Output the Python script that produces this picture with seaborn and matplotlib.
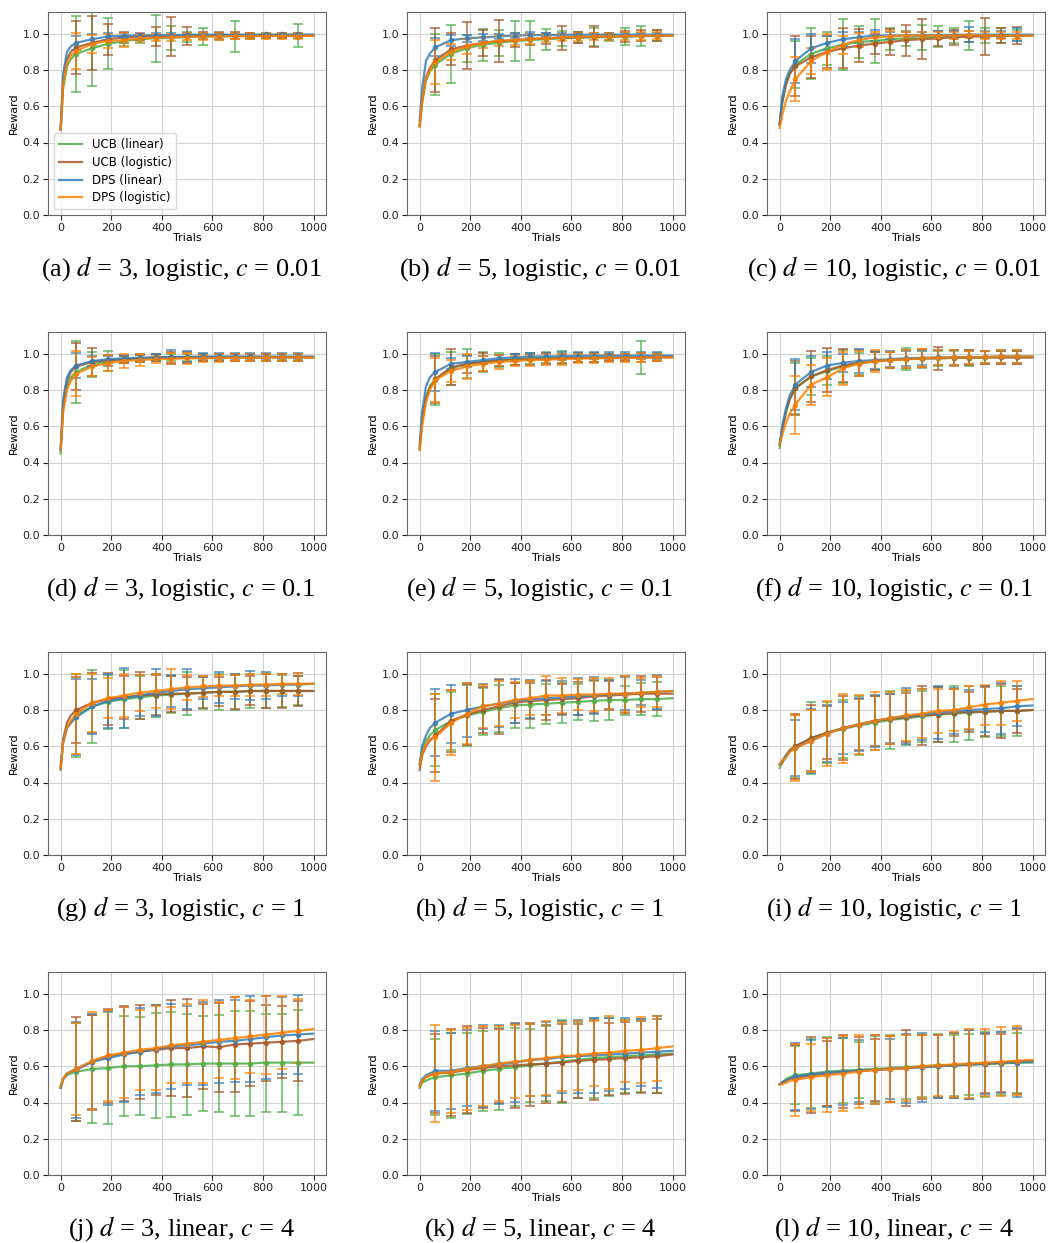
import matplotlib
matplotlib.use("Agg")
import matplotlib.pyplot as plt
import seaborn as sns

trials = [0, 10, 25, 40, 62, 125, 188, 250, 312, 375, 438, 500, 562, 625, 688, 750, 812, 875, 938, 999]
# error bars are drawn every ~62 trials (trials[4:19])
err_trials = trials[4:19]

methods = ["UCB (linear)", "UCB (logistic)", "DPS (linear)", "DPS (logistic)"]
colors = ["#4daf4a", "#a65628", "#377eb8", "#ff7f00"]

captions = [
    "(a) $d$ = 3, logistic, $c$ = 0.01", "(b) $d$ = 5, logistic, $c$ = 0.01", "(c) $d$ = 10, logistic, $c$ = 0.01",
    "(d) $d$ = 3, logistic, $c$ = 0.1", "(e) $d$ = 5, logistic, $c$ = 0.1", "(f) $d$ = 10, logistic, $c$ = 0.1",
    "(g) $d$ = 3, logistic, $c$ = 1", "(h) $d$ = 5, logistic, $c$ = 1", "(i) $d$ = 10, logistic, $c$ = 1",
    "(j) $d$ = 3, linear, $c$ = 4", "(k) $d$ = 5, linear, $c$ = 4", "(l) $d$ = 10, linear, $c$ = 4",
]

# order in every panel: UCB lin, UCB log, DPS lin, DPS log
mean_a = [
    [0.47, 0.70, 0.82, 0.86, 0.89, 0.92, 0.945, 0.96, 0.97, 0.975, 0.978, 0.982, 0.985, 0.986, 0.987, 0.988, 0.989, 0.99, 0.99, 0.99],
    [0.47, 0.74, 0.86, 0.90, 0.925, 0.95, 0.97, 0.98, 0.985, 0.985, 0.985, 0.988, 0.99, 0.99, 0.99, 0.99, 0.99, 0.99, 0.99, 0.99],
    [0.48, 0.78, 0.90, 0.93, 0.95, 0.97, 0.985, 0.99, 0.99, 0.992, 0.993, 0.994, 0.995, 0.995, 0.995, 0.995, 0.996, 0.996, 0.996, 0.996],
    [0.47, 0.72, 0.84, 0.88, 0.905, 0.945, 0.96, 0.965, 0.975, 0.978, 0.98, 0.983, 0.985, 0.985, 0.987, 0.987, 0.988, 0.988, 0.988, 0.99],
]
err_a = [
    [0.21, 0.21, 0.14, 0.03, 0.02, 0.13, 0.065, 0.03, 0.045, 0.02, 0.085, 0.015, 0.01, 0.015, 0.062],
    [0.145, 0.15, 0.085, 0.03, 0.02, 0.055, 0.105, 0.05, 0.02, 0.02, 0.02, 0.015, 0.01, 0.015, 0.015],
    [0.04, 0.03, 0.02, 0.015, 0.01, 0.01, 0.01, 0.01, 0.01, 0.01, 0.01, 0.01, 0.01, 0.01, 0.01],
    [0.10, 0.05, 0.04, 0.04, 0.02, 0.02, 0.02, 0.02, 0.02, 0.02, 0.015, 0.015, 0.015, 0.015, 0.015],
]

mean_b = [
    [0.49, 0.62, 0.74, 0.79, 0.83, 0.89, 0.92, 0.94, 0.95, 0.96, 0.965, 0.97, 0.975, 0.978, 0.98, 0.982, 0.984, 0.986, 0.988, 0.99],
    [0.49, 0.64, 0.76, 0.81, 0.855, 0.915, 0.935, 0.95, 0.96, 0.965, 0.97, 0.975, 0.978, 0.98, 0.983, 0.985, 0.986, 0.988, 0.99, 0.99],
    [0.52, 0.70, 0.85, 0.89, 0.925, 0.965, 0.975, 0.98, 0.985, 0.99, 0.992, 0.993, 0.994, 0.995, 0.995, 0.995, 0.995, 0.995, 0.995, 0.995],
    [0.49, 0.63, 0.75, 0.80, 0.845, 0.90, 0.93, 0.95, 0.96, 0.965, 0.97, 0.975, 0.98, 0.982, 0.985, 0.986, 0.987, 0.988, 0.99, 0.99],
]
err_b = [
    [0.17, 0.16, 0.075, 0.088, 0.07, 0.11, 0.108, 0.058, 0.04, 0.03, 0.05, 0.02, 0.045, 0.055, 0.03],
    [0.175, 0.09, 0.13, 0.07, 0.115, 0.04, 0.03, 0.03, 0.065, 0.03, 0.058, 0.02, 0.03, 0.03, 0.03],
    [0.05, 0.03, 0.02, 0.02, 0.015, 0.015, 0.015, 0.01, 0.01, 0.01, 0.01, 0.01, 0.01, 0.01, 0.01],
    [0.12, 0.045, 0.04, 0.03, 0.03, 0.025, 0.025, 0.02, 0.02, 0.02, 0.02, 0.02, 0.02, 0.02, 0.02],
]

mean_c = [
    [0.50, 0.62, 0.72, 0.78, 0.83, 0.89, 0.92, 0.94, 0.955, 0.96, 0.97, 0.975, 0.98, 0.985, 0.99, 0.99, 0.99, 0.99, 0.99, 0.99],
    [0.50, 0.62, 0.72, 0.78, 0.82, 0.87, 0.90, 0.92, 0.935, 0.945, 0.955, 0.965, 0.97, 0.975, 0.98, 0.985, 0.985, 0.99, 0.99, 0.99],
    [0.50, 0.65, 0.75, 0.80, 0.85, 0.92, 0.95, 0.97, 0.98, 0.99, 0.99, 0.99, 0.992, 0.993, 0.994, 0.995, 0.995, 0.995, 0.995, 0.995],
    [0.48, 0.55, 0.63, 0.68, 0.75, 0.85, 0.90, 0.94, 0.965, 0.98, 0.985, 0.99, 0.99, 0.99, 0.99, 0.995, 0.99, 0.99, 0.99, 0.99],
]
err_c = [
    [0.13, 0.14, 0.09, 0.14, 0.09, 0.12, 0.06, 0.04, 0.07, 0.06, 0.04, 0.078, 0.04, 0.04, 0.03],
    [0.165, 0.115, 0.09, 0.11, 0.09, 0.055, 0.07, 0.085, 0.11, 0.04, 0.04, 0.03, 0.10, 0.04, 0.045],
    [0.12, 0.08, 0.04, 0.04, 0.03, 0.03, 0.02, 0.02, 0.02, 0.02, 0.02, 0.04, 0.02, 0.02, 0.035],
    [0.12, 0.07, 0.10, 0.05, 0.04, 0.03, 0.03, 0.02, 0.02, 0.02, 0.02, 0.02, 0.02, 0.02, 0.02],
]

mean_d = [
    [0.45, 0.70, 0.82, 0.87, 0.90, 0.94, 0.96, 0.97, 0.975, 0.978, 0.98, 0.98, 0.98, 0.98, 0.98, 0.98, 0.98, 0.98, 0.98, 0.98],
    [0.47, 0.72, 0.85, 0.90, 0.93, 0.955, 0.965, 0.97, 0.975, 0.978, 0.98, 0.98, 0.98, 0.98, 0.98, 0.98, 0.98, 0.98, 0.98, 0.98],
    [0.47, 0.75, 0.87, 0.91, 0.935, 0.96, 0.97, 0.975, 0.978, 0.98, 0.982, 0.983, 0.985, 0.985, 0.985, 0.985, 0.985, 0.985, 0.985, 0.985],
    [0.47, 0.68, 0.80, 0.85, 0.89, 0.93, 0.95, 0.96, 0.965, 0.97, 0.972, 0.975, 0.975, 0.977, 0.978, 0.978, 0.98, 0.98, 0.98, 0.98],
]
err_d = [
    [0.17, 0.07, 0.055, 0.02, 0.02, 0.02, 0.02, 0.02, 0.02, 0.02, 0.02, 0.02, 0.02, 0.02, 0.02],
    [0.13, 0.075, 0.03, 0.02, 0.02, 0.02, 0.03, 0.03, 0.02, 0.02, 0.02, 0.02, 0.02, 0.02, 0.02],
    [0.07, 0.03, 0.02, 0.02, 0.02, 0.02, 0.04, 0.03, 0.02, 0.02, 0.02, 0.02, 0.02, 0.02, 0.02],
    [0.125, 0.05, 0.045, 0.04, 0.035, 0.02, 0.03, 0.03, 0.02, 0.02, 0.02, 0.02, 0.02, 0.02, 0.02],
]

mean_e = [
    [0.48, 0.64, 0.76, 0.82, 0.86, 0.92, 0.945, 0.955, 0.965, 0.97, 0.975, 0.977, 0.978, 0.98, 0.98, 0.98, 0.98, 0.98, 0.982, 0.985],
    [0.47, 0.63, 0.75, 0.81, 0.86, 0.925, 0.945, 0.955, 0.962, 0.968, 0.97, 0.972, 0.975, 0.977, 0.978, 0.978, 0.98, 0.98, 0.98, 0.98],
    [0.50, 0.68, 0.82, 0.87, 0.90, 0.945, 0.955, 0.965, 0.975, 0.98, 0.985, 0.985, 0.987, 0.99, 0.99, 0.99, 0.99, 0.99, 0.99, 0.99],
    [0.47, 0.60, 0.73, 0.80, 0.855, 0.905, 0.93, 0.945, 0.955, 0.96, 0.965, 0.968, 0.97, 0.973, 0.975, 0.975, 0.977, 0.978, 0.98, 0.98],
]
err_e = [
    [0.14, 0.09, 0.08, 0.055, 0.04, 0.03, 0.03, 0.03, 0.035, 0.025, 0.025, 0.02, 0.02, 0.09, 0.02],
    [0.13, 0.10, 0.05, 0.05, 0.03, 0.03, 0.03, 0.03, 0.025, 0.025, 0.025, 0.02, 0.02, 0.025, 0.02],
    [0.105, 0.03, 0.03, 0.02, 0.02, 0.02, 0.02, 0.02, 0.02, 0.02, 0.02, 0.02, 0.02, 0.02, 0.02],
    [0.12, 0.06, 0.07, 0.04, 0.04, 0.03, 0.03, 0.03, 0.03, 0.025, 0.025, 0.02, 0.02, 0.025, 0.02],
]

mean_f = [
    [0.48, 0.58, 0.68, 0.75, 0.81, 0.875, 0.905, 0.93, 0.945, 0.958, 0.965, 0.97, 0.973, 0.975, 0.977, 0.978, 0.98, 0.98, 0.98, 0.98],
    [0.50, 0.58, 0.68, 0.75, 0.81, 0.875, 0.91, 0.935, 0.95, 0.96, 0.965, 0.97, 0.975, 0.975, 0.978, 0.978, 0.98, 0.98, 0.98, 0.98],
    [0.50, 0.60, 0.70, 0.77, 0.83, 0.90, 0.935, 0.95, 0.96, 0.965, 0.97, 0.975, 0.977, 0.98, 0.98, 0.98, 0.982, 0.985, 0.985, 0.985],
    [0.50, 0.55, 0.62, 0.67, 0.72, 0.83, 0.87, 0.92, 0.945, 0.96, 0.965, 0.97, 0.975, 0.978, 0.98, 0.98, 0.982, 0.985, 0.985, 0.985],
]
err_f = [
    [0.14, 0.10, 0.08, 0.09, 0.06, 0.05, 0.045, 0.062, 0.05, 0.04, 0.04, 0.045, 0.035, 0.035, 0.035],
    [0.15, 0.14, 0.12, 0.09, 0.07, 0.05, 0.045, 0.05, 0.05, 0.065, 0.045, 0.04, 0.035, 0.035, 0.035],
    [0.14, 0.085, 0.075, 0.05, 0.065, 0.05, 0.045, 0.04, 0.04, 0.04, 0.04, 0.035, 0.035, 0.035, 0.035],
    [0.16, 0.11, 0.105, 0.09, 0.07, 0.06, 0.045, 0.05, 0.05, 0.04, 0.04, 0.035, 0.035, 0.035, 0.035],
]

mean_g = [
    [0.48, 0.62, 0.70, 0.73, 0.77, 0.82, 0.845, 0.86, 0.87, 0.88, 0.885, 0.89, 0.895, 0.90, 0.90, 0.905, 0.905, 0.905, 0.905, 0.905],
    [0.47, 0.64, 0.73, 0.77, 0.80, 0.84, 0.86, 0.87, 0.88, 0.885, 0.89, 0.89, 0.895, 0.90, 0.90, 0.905, 0.905, 0.905, 0.905, 0.905],
    [0.50, 0.63, 0.70, 0.73, 0.76, 0.82, 0.85, 0.865, 0.88, 0.895, 0.905, 0.915, 0.92, 0.925, 0.93, 0.935, 0.935, 0.94, 0.94, 0.945],
    [0.48, 0.62, 0.70, 0.74, 0.78, 0.84, 0.865, 0.88, 0.895, 0.905, 0.915, 0.925, 0.93, 0.935, 0.935, 0.94, 0.94, 0.945, 0.945, 0.945],
]
err_g = [
    [0.23, 0.20, 0.15, 0.16, 0.12, 0.12, 0.10, 0.12, 0.09, 0.10, 0.10, 0.095, 0.095, 0.09, 0.08],
    [0.18, 0.165, 0.145, 0.12, 0.13, 0.11, 0.10, 0.09, 0.085, 0.08, 0.095, 0.08, 0.095, 0.095, 0.085],
    [0.21, 0.15, 0.15, 0.165, 0.115, 0.13, 0.09, 0.11, 0.06, 0.085, 0.07, 0.08, 0.075, 0.06, 0.065],
    [0.22, 0.16, 0.11, 0.12, 0.10, 0.095, 0.11, 0.07, 0.06, 0.06, 0.06, 0.06, 0.06, 0.055, 0.06],
]

mean_h = [
    [0.50, 0.58, 0.63, 0.66, 0.69, 0.74, 0.77, 0.79, 0.81, 0.825, 0.83, 0.835, 0.84, 0.845, 0.85, 0.855, 0.855, 0.86, 0.86, 0.865],
    [0.47, 0.55, 0.60, 0.63, 0.66, 0.74, 0.775, 0.80, 0.82, 0.84, 0.85, 0.855, 0.86, 0.865, 0.875, 0.88, 0.885, 0.89, 0.89, 0.89],
    [0.50, 0.60, 0.66, 0.70, 0.73, 0.78, 0.80, 0.82, 0.835, 0.85, 0.86, 0.865, 0.87, 0.875, 0.88, 0.885, 0.89, 0.895, 0.90, 0.905],
    [0.50, 0.56, 0.61, 0.64, 0.65, 0.73, 0.78, 0.82, 0.835, 0.855, 0.865, 0.88, 0.88, 0.885, 0.885, 0.89, 0.89, 0.895, 0.90, 0.905],
]
err_h = [
    [0.20, 0.16, 0.17, 0.13, 0.13, 0.125, 0.13, 0.11, 0.11, 0.10, 0.11, 0.11, 0.08, 0.09, 0.095],
    [0.20, 0.17, 0.17, 0.125, 0.15, 0.11, 0.10, 0.11, 0.085, 0.09, 0.09, 0.08, 0.10, 0.10, 0.09],
    [0.185, 0.16, 0.15, 0.125, 0.13, 0.12, 0.105, 0.095, 0.09, 0.10, 0.10, 0.08, 0.09, 0.07, 0.095],
    [0.24, 0.18, 0.17, 0.12, 0.125, 0.10, 0.095, 0.11, 0.095, 0.085, 0.09, 0.085, 0.10, 0.08, 0.085],
]

mean_i = [
    [0.48, 0.51, 0.54, 0.57, 0.60, 0.645, 0.675, 0.695, 0.715, 0.73, 0.745, 0.755, 0.765, 0.775, 0.78, 0.785, 0.79, 0.795, 0.795, 0.80],
    [0.50, 0.51, 0.55, 0.58, 0.60, 0.645, 0.675, 0.70, 0.72, 0.74, 0.75, 0.76, 0.77, 0.775, 0.785, 0.79, 0.79, 0.795, 0.795, 0.80],
    [0.50, 0.52, 0.55, 0.57, 0.59, 0.63, 0.67, 0.70, 0.72, 0.74, 0.755, 0.765, 0.775, 0.785, 0.795, 0.80, 0.805, 0.81, 0.82, 0.825],
    [0.50, 0.52, 0.54, 0.57, 0.59, 0.63, 0.67, 0.70, 0.72, 0.74, 0.755, 0.77, 0.78, 0.795, 0.80, 0.815, 0.83, 0.84, 0.85, 0.86],
]
err_i = [
    [0.175, 0.20, 0.17, 0.16, 0.165, 0.15, 0.16, 0.15, 0.14, 0.15, 0.155, 0.15, 0.14, 0.14, 0.14],
    [0.18, 0.18, 0.145, 0.175, 0.14, 0.14, 0.14, 0.135, 0.165, 0.15, 0.13, 0.11, 0.135, 0.15, 0.12],
    [0.155, 0.175, 0.155, 0.145, 0.145, 0.145, 0.135, 0.155, 0.14, 0.145, 0.125, 0.11, 0.125, 0.14, 0.11],
    [0.18, 0.17, 0.18, 0.19, 0.165, 0.16, 0.145, 0.14, 0.135, 0.12, 0.115, 0.12, 0.11, 0.12, 0.11],
]

mean_j = [
    [0.48, 0.53, 0.55, 0.56, 0.57, 0.585, 0.59, 0.60, 0.60, 0.605, 0.61, 0.61, 0.615, 0.615, 0.615, 0.615, 0.62, 0.62, 0.62, 0.62],
    [0.48, 0.53, 0.56, 0.57, 0.585, 0.625, 0.655, 0.67, 0.68, 0.69, 0.70, 0.70, 0.71, 0.705, 0.72, 0.725, 0.73, 0.735, 0.74, 0.75],
    [0.49, 0.53, 0.56, 0.57, 0.58, 0.625, 0.645, 0.665, 0.68, 0.695, 0.71, 0.715, 0.725, 0.735, 0.74, 0.75, 0.76, 0.77, 0.775, 0.78],
    [0.49, 0.53, 0.56, 0.57, 0.585, 0.63, 0.66, 0.675, 0.69, 0.70, 0.715, 0.725, 0.735, 0.745, 0.755, 0.765, 0.775, 0.785, 0.795, 0.805],
]
err_j = [
    [0.27, 0.30, 0.31, 0.275, 0.27, 0.29, 0.29, 0.28, 0.26, 0.27, 0.29, 0.29, 0.27, 0.27, 0.29],
    [0.285, 0.26, 0.26, 0.26, 0.26, 0.25, 0.265, 0.27, 0.235, 0.245, 0.26, 0.235, 0.21, 0.2, 0.22],
    [0.265, 0.265, 0.26, 0.26, 0.24, 0.245, 0.235, 0.22, 0.23, 0.23, 0.225, 0.235, 0.23, 0.21, 0.22],
    [0.255, 0.27, 0.25, 0.25, 0.22, 0.23, 0.21, 0.22, 0.23, 0.21, 0.225, 0.2, 0.215, 0.2, 0.175],
]

mean_k = [
    [0.48, 0.51, 0.52, 0.53, 0.54, 0.55, 0.56, 0.575, 0.585, 0.595, 0.605, 0.615, 0.625, 0.635, 0.645, 0.65, 0.655, 0.66, 0.665, 0.67],
    [0.49, 0.52, 0.54, 0.55, 0.56, 0.565, 0.58, 0.59, 0.60, 0.605, 0.61, 0.615, 0.62, 0.63, 0.635, 0.64, 0.645, 0.65, 0.655, 0.665],
    [0.50, 0.53, 0.55, 0.56, 0.575, 0.575, 0.59, 0.60, 0.61, 0.62, 0.635, 0.64, 0.65, 0.655, 0.66, 0.665, 0.67, 0.675, 0.68, 0.685],
    [0.49, 0.52, 0.54, 0.55, 0.56, 0.57, 0.585, 0.60, 0.615, 0.625, 0.635, 0.645, 0.655, 0.66, 0.67, 0.675, 0.685, 0.69, 0.70, 0.71],
]
err_k = [
    [0.21, 0.235, 0.225, 0.22, 0.225, 0.215, 0.2, 0.205, 0.23, 0.21, 0.22, 0.215, 0.2, 0.2, 0.215],
    [0.22, 0.24, 0.24, 0.22, 0.205, 0.235, 0.23, 0.215, 0.215, 0.205, 0.22, 0.2, 0.2, 0.2, 0.205],
    [0.22, 0.21, 0.21, 0.225, 0.22, 0.215, 0.2, 0.205, 0.2, 0.2, 0.205, 0.2, 0.195, 0.185, 0.2],
    [0.27, 0.23, 0.225, 0.22, 0.205, 0.2, 0.2, 0.205, 0.19, 0.19, 0.18, 0.2, 0.17, 0.18, 0.18],
]

mean_l = [
    [0.50, 0.51, 0.53, 0.54, 0.55, 0.56, 0.57, 0.575, 0.58, 0.585, 0.59, 0.595, 0.60, 0.605, 0.605, 0.61, 0.61, 0.615, 0.62, 0.62],
    [0.50, 0.51, 0.52, 0.53, 0.535, 0.55, 0.56, 0.57, 0.575, 0.58, 0.585, 0.59, 0.595, 0.60, 0.605, 0.61, 0.615, 0.62, 0.625, 0.63],
    [0.50, 0.51, 0.52, 0.53, 0.545, 0.555, 0.565, 0.57, 0.575, 0.58, 0.585, 0.59, 0.595, 0.60, 0.605, 0.61, 0.615, 0.62, 0.62, 0.625],
    [0.50, 0.50, 0.51, 0.52, 0.525, 0.54, 0.55, 0.56, 0.57, 0.58, 0.585, 0.59, 0.60, 0.605, 0.61, 0.615, 0.62, 0.625, 0.63, 0.635],
]
err_l = [
    [0.16, 0.19, 0.19, 0.18, 0.155, 0.18, 0.185, 0.175, 0.17, 0.175, 0.17, 0.17, 0.18, 0.175, 0.165],
    [0.18, 0.21, 0.18, 0.2, 0.185, 0.17, 0.18, 0.21, 0.175, 0.175, 0.18, 0.19, 0.165, 0.16, 0.18],
    [0.185, 0.19, 0.19, 0.185, 0.17, 0.19, 0.165, 0.19, 0.19, 0.175, 0.18, 0.19, 0.17, 0.17, 0.19],
    [0.2, 0.185, 0.205, 0.205, 0.2, 0.19, 0.18, 0.18, 0.175, 0.17, 0.18, 0.19, 0.185, 0.19, 0.19],
]

means = [mean_a, mean_b, mean_c, mean_d, mean_e, mean_f, mean_g, mean_h, mean_i, mean_j, mean_k, mean_l]
errs = [err_a, err_b, err_c, err_d, err_e, err_f, err_g, err_h, err_i, err_j, err_k, err_l]

W, H = 1048, 1243
fig = plt.figure(figsize=(W / 100, H / 100), dpi=100)
plt.rcParams['mathtext.fontset'] = 'stix'

col_left = [48, 407, 767]
row_top = [12, 332, 652, 972]
cap_shift = [-6, -6, -12]
ax_w, ax_h = 278, 203

for i in range(12):
    r, c = divmod(i, 3)
    x0, y0 = col_left[c], row_top[r]
    ax = fig.add_axes([x0 / W, 1 - (y0 + ax_h) / H, ax_w / W, ax_h / H])
    ax.grid(True, color="#d3d3d3", lw=0.8)
    ax.set_axisbelow(True)
    for k in range(4):
        m = means[i][k]
        sns.lineplot(x=trials, y=m, ax=ax, color=colors[k], lw=1.6, alpha=0.85,
                     label=methods[k] if i == 0 else None, legend=False)
        ax.errorbar(err_trials, m[4:19], yerr=errs[i][k], fmt="o", ms=3,
                    color=colors[k], ecolor=colors[k], elinewidth=1.2,
                    capsize=3.5, capthick=1.2, alpha=0.8)
    ax.set_xlim(-50, 1049)
    ax.set_ylim(0, 1.12)
    ax.set_xticks([0, 200, 400, 600, 800, 1000])
    ax.set_yticks([0.0, 0.2, 0.4, 0.6, 0.8, 1.0])
    ax.tick_params(labelsize=8, length=3.5, width=0.8, pad=2, colors="#222222")
    ax.set_xlabel("Trials", fontsize=8, labelpad=0)
    ax.set_ylabel("Reward", fontsize=8, labelpad=3)
    for s in ax.spines.values():
        s.set_color("#666666")
        s.set_linewidth(0.8)
    if i == 0:
        ax.legend(loc="lower left", fontsize=8.5, framealpha=0.8, borderpad=0.4,
                  handlelength=2.0, labelspacing=0.4)
    fig.text((x0 + ax_w / 2 + cap_shift[c]) / W, 1 - (y0 + 257) / H, captions[i],
             ha="center", va="center", fontsize=19, family="Liberation Serif")

fig.savefig("out.png", dpi=100)
